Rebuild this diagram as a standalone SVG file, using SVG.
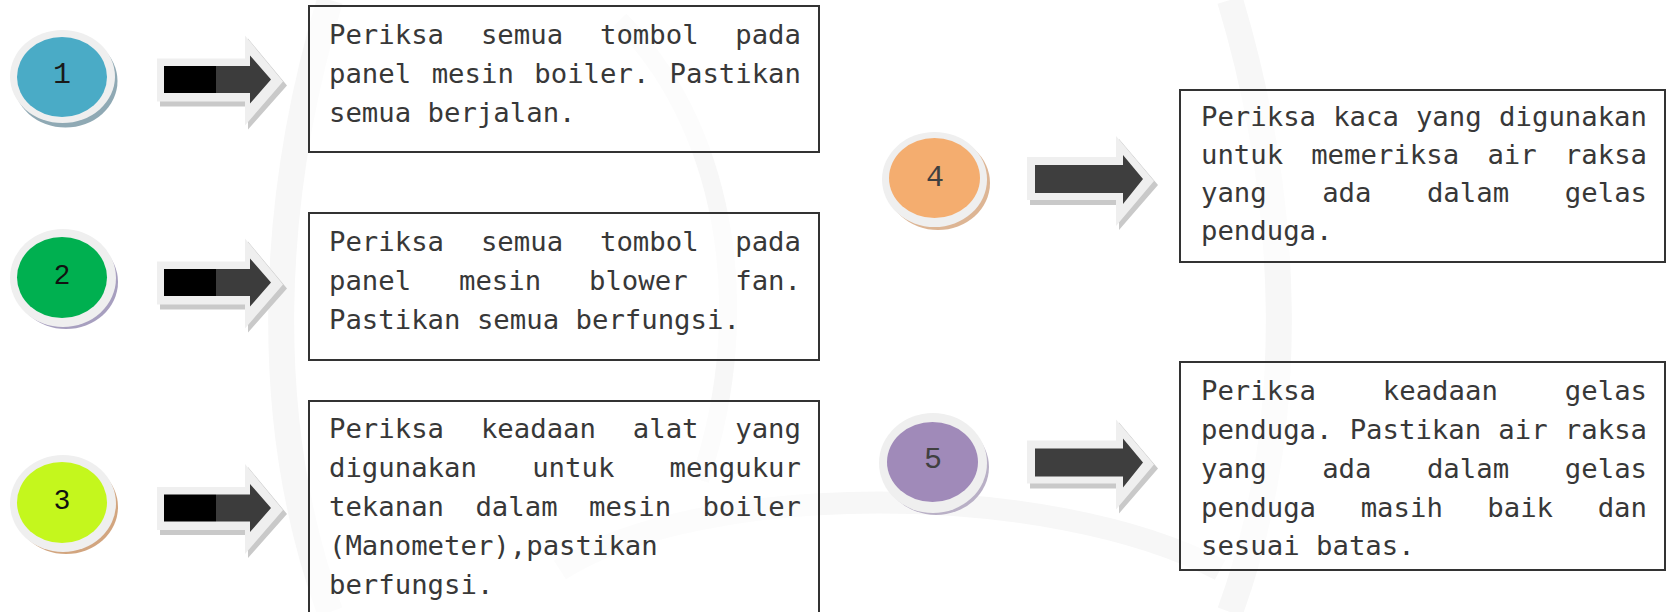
<svg xmlns="http://www.w3.org/2000/svg" width="1666" height="612" viewBox="0 0 1666 612">
<defs>
<style>
.txt{font-family:"DejaVu Sans Mono","Liberation Mono",monospace;font-size:27.3px;fill:#383838}
.end{text-anchor:end}
.box{fill:#ffffff;fill-opacity:0.6;stroke:#333333;stroke-width:2}
.ring{fill:#efefef}
.numM{font-family:"Liberation Mono","Courier New",monospace;font-size:30px;text-anchor:middle}
.numS{font-family:"Liberation Sans",Arial,sans-serif;font-size:28px;text-anchor:middle;fill:#111}
.frame{fill:#efefef}
.fshadow{fill:#c9c9c9}
.wm{fill:none;stroke:#f7f7f7}
</style>
<g id="arrowL">
<polygon class="fshadow" points="160,-17 248,-17 248,-41 287,6 248,50 248,27 160,27"/>
<polygon class="frame" points="157,-21 245,-21 245,-44 283,2 245,46 245,22 157,22"/>
<rect x="164" y="-13.5" width="52" height="27" fill="#000"/>
<polygon points="216,-13.5 250,-13.5 250,-24 271,0 250,24 250,13.5 216,13.5" fill="#3c3c3c"/>
</g>
<g id="arrowR">
<polygon class="fshadow" points="1030,-18 1119,-18 1119,-40 1158,6 1119,51 1119,26 1030,26"/>
<polygon class="frame" points="1027,-22 1116,-22 1116,-43 1154,2 1116,47 1116,21 1027,21"/>
<polygon points="1035,-14 1123,-14 1123,-24 1143,0 1123,25 1123,14 1035,14" fill="#3e3e3e"/>
</g>
</defs>
<rect width="1666" height="612" fill="#ffffff"/>
<g id="watermark">
<path class="wm" d="M330,0 C270,200 260,420 330,612" stroke-width="26"/>
<path class="wm" d="M1230,0 C1290,200 1300,420 1230,612" stroke-width="26"/>
<path class="wm" d="M560,570 C700,480 1050,480 1220,570" stroke-width="22"/>
<path class="wm" d="M620,20 C720,120 760,300 700,480" stroke-width="18"/>
</g>
<g id="connectors">
<use href="#arrowL" transform="translate(0,79.5)"/>
<use href="#arrowL" transform="translate(0,282.5)"/>
<use href="#arrowL" transform="translate(0,508)"/>
<use href="#arrowR" transform="translate(0,179)"/>
<use href="#arrowR" transform="translate(0,462.5)"/>
</g>
<g id="node1">
<ellipse cx="65.5" cy="81" rx="52" ry="46.5" fill="#8fa9b4"/>
<ellipse class="ring" cx="62.5" cy="76.5" rx="52.5" ry="46.5"/>
<ellipse cx="62" cy="77" rx="45" ry="40" fill="#4aabc6"/>
<text class="numM" x="62" y="83" fill="#1a1a1a">1</text>
</g>
<g id="node2">
<ellipse cx="66" cy="282" rx="52" ry="47" fill="#a79fbf"/>
<ellipse class="ring" cx="63" cy="278" rx="53" ry="49"/>
<ellipse cx="62" cy="277.5" rx="45" ry="40.5" fill="#00b050"/>
<text class="numS" x="62" y="284">2</text>
</g>
<g id="node3">
<ellipse cx="66" cy="507" rx="52" ry="47" fill="#d2a57f"/>
<ellipse class="ring" cx="63" cy="503.5" rx="53" ry="48.5"/>
<ellipse cx="62" cy="502.5" rx="45" ry="40.5" fill="#c4f71d"/>
<text class="numS" x="62" y="509">3</text>
</g>
<g id="node4">
<ellipse cx="938" cy="183" rx="52" ry="47" fill="#ddb594"/>
<ellipse class="ring" cx="934.5" cy="179.5" rx="52.5" ry="47.5"/>
<ellipse cx="934.5" cy="178" rx="45.5" ry="40" fill="#f4ad6f"/>
<text class="numM" x="935" y="186" fill="#404040">4</text>
</g>
<g id="node5">
<ellipse cx="936" cy="467" rx="53" ry="48" fill="#b9b0c6"/>
<ellipse class="ring" cx="933" cy="463" rx="54" ry="50"/>
<ellipse cx="932.5" cy="462" rx="45.5" ry="40" fill="#a08ab9"/>
<text class="numM" x="933" y="468" fill="#404040">5</text>
</g>
<g id="box1">
<rect class="box" x="309" y="6" width="510" height="146"/>
<text class="txt" y="44"><tspan x="329">Periksa</tspan><tspan x="480.9">semua</tspan><tspan x="600">tombol</tspan></text>
<text class="txt end" x="801" y="44">pada</text>
<text class="txt" y="83"><tspan x="329">panel</tspan><tspan x="431.7">mesin</tspan><tspan x="534.3">boiler.</tspan></text>
<text class="txt end" x="801" y="83">Pastikan</text>
<text class="txt" x="329" y="122">semua berjalan.</text>
</g>
<g id="box2">
<rect class="box" x="309" y="213" width="510" height="147"/>
<text class="txt" y="251"><tspan x="329">Periksa</tspan><tspan x="480.9">semua</tspan><tspan x="600">tombol</tspan></text>
<text class="txt end" x="801" y="251">pada</text>
<text class="txt" y="290"><tspan x="329">panel</tspan><tspan x="459">mesin</tspan><tspan x="589">blower</tspan></text>
<text class="txt end" x="801" y="290">fan.</text>
<text class="txt" x="329" y="329">Pastikan semua berfungsi.</text>
</g>
<g id="box3">
<rect class="box" x="309" y="401" width="510" height="230"/>
<text class="txt" y="438"><tspan x="329">Periksa</tspan><tspan x="480.9">keadaan</tspan><tspan x="632.8">alat</tspan></text>
<text class="txt end" x="801" y="438">yang</text>
<text class="txt" y="477"><tspan x="329">digunakan</tspan><tspan x="532.2">untuk</tspan></text>
<text class="txt end" x="801" y="477">mengukur</text>
<text class="txt" y="516"><tspan x="329">tekanan</tspan><tspan x="475.4">dalam</tspan><tspan x="589">mesin</tspan></text>
<text class="txt end" x="801" y="516">boiler</text>
<text class="txt" x="329" y="555">(Manometer),pastikan</text>
<text class="txt" x="329" y="594">berfungsi.</text>
</g>
<g id="box4">
<rect class="box" x="1180" y="90" width="485" height="172"/>
<text class="txt" y="126"><tspan x="1201">Periksa</tspan><tspan x="1333.2">kaca</tspan><tspan x="1415.9">yang</tspan></text>
<text class="txt end" x="1647" y="126">digunakan</text>
<text class="txt" y="164"><tspan x="1201">untuk</tspan><tspan x="1311.2">memeriksa</tspan><tspan x="1487.4">air</tspan></text>
<text class="txt end" x="1647" y="164">raksa</text>
<text class="txt" y="202"><tspan x="1201">yang</tspan><tspan x="1322.2">ada</tspan><tspan x="1426.9">dalam</tspan></text>
<text class="txt end" x="1647" y="202">gelas</text>
<text class="txt" x="1201" y="240">penduga.</text>
</g>
<g id="box5">
<rect class="box" x="1180" y="362" width="485" height="208"/>
<text class="txt" y="400"><tspan x="1201">Periksa</tspan><tspan x="1382.8">keadaan</tspan></text>
<text class="txt end" x="1647" y="400">gelas</text>
<text class="txt" y="439"><tspan x="1201">penduga.</tspan><tspan x="1349.7">Pastikan</tspan><tspan x="1498.3">air</tspan></text>
<text class="txt end" x="1647" y="439">raksa</text>
<text class="txt" y="478"><tspan x="1201">yang</tspan><tspan x="1322.2">ada</tspan><tspan x="1426.9">dalam</tspan></text>
<text class="txt end" x="1647" y="478">gelas</text>
<text class="txt" y="517"><tspan x="1201">penduga</tspan><tspan x="1360.7">masih</tspan><tspan x="1487.3">baik</tspan></text>
<text class="txt end" x="1647" y="517">dan</text>
<text class="txt" x="1201" y="555">sesuai batas.</text>
</g>
</svg>
